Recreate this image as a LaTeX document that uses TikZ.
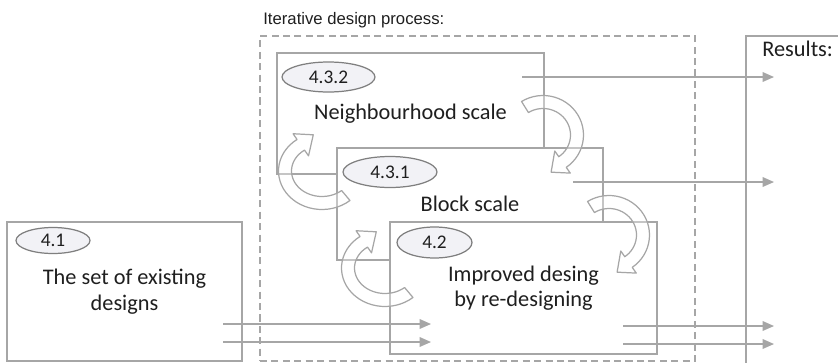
\documentclass[tikz,border=0pt]{standalone}
\usepackage{fontspec}
\setmainfont{Carlito}
\newfontfamily\titlefont{Liberation Sans}
\usetikzlibrary{arrows.meta, shapes.geometric}

\definecolor{linegray}{HTML}{A6A6A6}
\definecolor{tagfill}{HTML}{F2F2F6}
\definecolor{tagline}{HTML}{7F7F7F}
\definecolor{ink}{HTML}{1F1F1F}

% hollow bent arrow: centre, x radius, y radius, start angle, end angle, tip angle
\newcommand{\bentarrow}[6]{%
  \begin{scope}[shift={(#1)}]
    \draw[bent] plot[domain=#4:#5, samples=30] ({(#2+6.5)*cos(\x)}, {(#3+6.5)*sin(\x)})
      -- ({(#2+13.5)*cos(#5)}, {(#3+13.5)*sin(#5)})
      -- ({(#2+5)*cos(#6)}, {(#3+5)*sin(#6)})
      -- ({(#2-13.5)*cos(#5)}, {(#3-13.5)*sin(#5)})
      -- plot[domain=#5:#4, samples=30] ({(#2-6.5)*cos(\x)}, {(#3-6.5)*sin(\x)})
      -- cycle;
  \end{scope}}

\begin{document}
\begin{tikzpicture}[
    x=0.02cm, y=-0.02cm,
    panel/.style={rectangle, draw=linegray, line width=0.8pt, fill=white, text=ink,
                  align=center, font=\fontsize{12.7}{14.5}\selectfont},
    tag/.style={ellipse, draw=tagline, line width=0.7pt, fill=tagfill, inner sep=0pt,
                text=ink, font=\fontsize{11}{12}\selectfont},
    caption/.style={inner sep=0pt, text=ink},
    flow/.style={draw=linegray, line width=0.8pt, -{Triangle[length=6.5pt, width=5.5pt]}},
    bent/.style={draw=linegray, line width=0.7pt, fill=white, fill opacity=0.35, line join=round}
]
    \useasboundingbox (0,0) rectangle (838,362);

    % frames
    \node[draw=linegray, line width=0.7pt, dash pattern=on 4pt off 2.5pt,
          minimum width=8.70cm, minimum height=6.50cm] (proc) at (477.5,198.5) {};
    \node[caption, anchor=base west, font=\titlefont\fontsize{9.5}{11}\selectfont] (proctitle) at (263,24) {Iterative design process:};
    \node[panel, minimum width=2.2cm, minimum height=6.78cm] (res) at (801,205.5) {};
    \node[caption, anchor=base west, font=\fontsize{12.7}{14}\selectfont] (restitle) at (762,56.5) {Results:};

    % design levels
    \node[panel, minimum width=5.34cm, minimum height=2.42cm] (nbh) at (410.5,113.5) {Neighbourhood scale};
    \node[tag, minimum width=1.86cm, minimum height=0.60cm] (t432) at (328.5,77) {4.3.2};
    \node[panel, minimum width=5.32cm, minimum height=2.24cm] (blk) at (470,204) {Block scale};
    \node[tag, minimum width=1.88cm, minimum height=0.62cm] (t431) at (390,172) {4.3.1};
    \node[panel, minimum width=5.34cm, minimum height=2.64cm] (imp) at (523.5,288) {Improved desing\\by re-designing};
    \node[tag, minimum width=1.50cm, minimum height=0.62cm] (t42) at (434.5,242.5) {4.2};
    \node[panel, minimum width=4.70cm, minimum height=2.78cm] (ext) at (124.5,291.5) {The set of existing\\designs};
    \node[tag, minimum width=1.48cm, minimum height=0.52cm] (t41) at (53,240.5) {4.1};

    % straight flows
    \coordinate (nbhout) at (522,77);
    \coordinate (blkout) at (573,182);
    \coordinate (extoutA) at (223,324);
    \coordinate (extoutB) at (223,342);
    \coordinate (impoutA) at (623,326);
    \coordinate (impoutB) at (623,344);
    \coordinate (impinA) at (431,324);
    \coordinate (impinB) at (431,342);
    \coordinate (resinA) at (774,77);
    \coordinate (resinB) at (774,182);
    \coordinate (resinC) at (774,326);
    \coordinate (resinD) at (774,344);
    \draw[flow] (nbhout) -- (resinA);
    \draw[flow] (blkout) -- (resinB);
    \draw[flow] (extoutA) -- (impinA);
    \draw[flow] (extoutB) -- (impinB);
    \draw[flow] (impoutA) -- (resinC);
    \draw[flow] (impoutB) -- (resinD);

    % iteration loops
    \bentarrow{543,135}{34}{33}{-122}{55}{78}
    \bentarrow{609,235}{34}{33}{-122}{55}{78}
    \bentarrow{322,171}{37}{32}{50}{235}{258}
    \bentarrow{385,268}{37}{32}{50}{235}{258}
\end{tikzpicture}
\end{document}
